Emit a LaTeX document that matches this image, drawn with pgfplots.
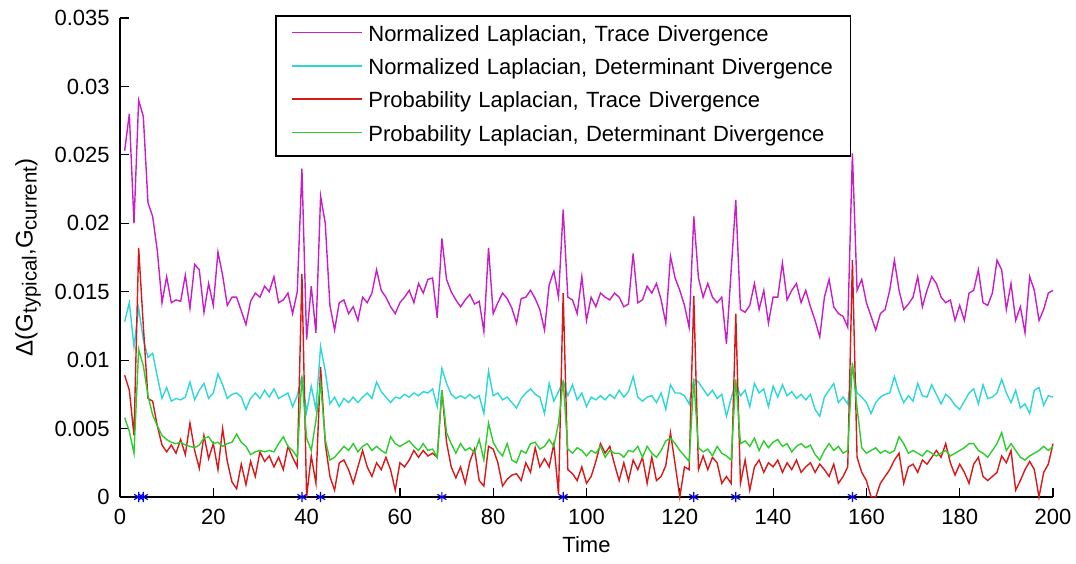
\documentclass[border=0pt]{standalone}
\usepackage{fontspec}
\setmainfont{Liberation Sans}
\usepackage{pgfplots}
\pgfplotsset{compat=1.18}
\usepackage{pgfplotstable}

\definecolor{cM}{RGB}{200,30,200}
\definecolor{cC}{RGB}{45,215,215}
\definecolor{cR}{RGB}{215,25,25}
\definecolor{cG}{RGB}{45,205,45}

\newcommand{\sub}[1]{\raisebox{-0.3ex}{\fontsize{10.2}{12}\selectfont #1}}

\pgfplotstableread{
t nt nd pt pd
1 0.0253 0.0128 0.0089 0.0058
2 0.0280 0.0142 0.0078 0.0048
3 0.0200 0.0110 0.0045 0.0032
4 0.0290 0.0138 0.0182 0.0108
5 0.0278 0.0115 0.0125 0.0096
6 0.0215 0.0102 0.0072 0.0074
7 0.0205 0.0105 0.0070 0.0060
8 0.0180 0.0088 0.0052 0.0052
9 0.0142 0.0072 0.0038 0.0045
10 0.0161 0.0080 0.0033 0.0042
11 0.0142 0.0070 0.0038 0.0040
12 0.0144 0.0072 0.0032 0.0039
13 0.0143 0.0071 0.0042 0.0040
14 0.0162 0.0073 0.0031 0.0038
15 0.0138 0.0084 0.0054 0.0037
16 0.0170 0.0071 0.0034 0.0036
17 0.0166 0.0078 0.0021 0.0038
18 0.0135 0.0083 0.0045 0.0043
19 0.0156 0.0072 0.0028 0.0044
20 0.0140 0.0076 0.0039 0.0039
21 0.0179 0.0090 0.0020 0.0040
22 0.0162 0.0082 0.0050 0.0037
23 0.0140 0.0072 0.0026 0.0039
24 0.0146 0.0075 0.0011 0.0040
25 0.0146 0.0076 0.0006 0.0046
26 0.0136 0.0073 0.0024 0.0040
27 0.0126 0.0064 0.0009 0.0037
28 0.0143 0.0072 0.0026 0.0031
29 0.0149 0.0076 0.0015 0.0033
30 0.0146 0.0072 0.0033 0.0034
31 0.0154 0.0078 0.0026 0.0033
32 0.0150 0.0073 0.0030 0.0034
33 0.0161 0.0079 0.0022 0.0033
34 0.0142 0.0072 0.0029 0.0039
35 0.0144 0.0074 0.0020 0.0044
36 0.0149 0.0076 0.0037 0.0037
37 0.0134 0.0066 0.0029 0.0034
38 0.0150 0.0074 0.0022 0.0029
39 0.0240 0.0088 0.0163 0.0088
40 0.0115 0.0062 0.0000 0.0043
41 0.0154 0.0081 0.0030 0.0034
42 0.0120 0.0064 0.0010 0.0056
43 0.0220 0.0110 0.0095 0.0083
44 0.0200 0.0092 0.0039 0.0042
45 0.0140 0.0068 0.0015 0.0027
46 0.0122 0.0073 0.0005 0.0029
47 0.0142 0.0066 0.0025 0.0033
48 0.0144 0.0072 0.0027 0.0037
49 0.0134 0.0069 0.0020 0.0034
50 0.0139 0.0073 0.0010 0.0039
51 0.0129 0.0069 0.0022 0.0033
52 0.0146 0.0073 0.0034 0.0037
53 0.0142 0.0076 0.0022 0.0039
54 0.0149 0.0072 0.0015 0.0034
55 0.0166 0.0084 0.0025 0.0037
56 0.0151 0.0077 0.0020 0.0034
57 0.0146 0.0073 0.0029 0.0032
58 0.0139 0.0069 0.0020 0.0044
59 0.0134 0.0073 0.0005 0.0039
60 0.0142 0.0072 0.0025 0.0037
61 0.0146 0.0075 0.0022 0.0039
62 0.0151 0.0073 0.0027 0.0041
63 0.0142 0.0076 0.0034 0.0037
64 0.0156 0.0074 0.0029 0.0034
65 0.0149 0.0077 0.0034 0.0039
66 0.0159 0.0076 0.0030 0.0034
67 0.0160 0.0079 0.0032 0.0035
68 0.0131 0.0066 0.0029 0.0029
69 0.0189 0.0094 0.0078 0.0078
70 0.0159 0.0083 0.0040 0.0047
71 0.0150 0.0075 0.0022 0.0039
72 0.0144 0.0072 0.0014 0.0032
73 0.0139 0.0074 0.0022 0.0039
74 0.0144 0.0072 0.0010 0.0034
75 0.0148 0.0075 0.0026 0.0036
76 0.0141 0.0072 0.0035 0.0032
77 0.0143 0.0074 0.0012 0.0042
78 0.0121 0.0061 0.0008 0.0027
79 0.0182 0.0092 0.0037 0.0054
80 0.0134 0.0074 0.0035 0.0040
81 0.0142 0.0076 0.0025 0.0034
82 0.0149 0.0071 0.0008 0.0030
83 0.0145 0.0073 0.0013 0.0039
84 0.0138 0.0069 0.0016 0.0027
85 0.0127 0.0065 0.0017 0.0025
86 0.0145 0.0072 0.0012 0.0034
87 0.0146 0.0076 0.0025 0.0032
88 0.0151 0.0079 0.0018 0.0039
89 0.0145 0.0075 0.0036 0.0040
90 0.0137 0.0073 0.0022 0.0035
91 0.0122 0.0061 0.0028 0.0037
92 0.0155 0.0083 0.0022 0.0042
93 0.0165 0.0070 0.0039 0.0037
94 0.0146 0.0077 0.0002 0.0054
95 0.0210 0.0085 0.0149 0.0085
96 0.0146 0.0074 0.0020 0.0035
97 0.0144 0.0082 0.0017 0.0032
98 0.0134 0.0071 0.0012 0.0036
99 0.0161 0.0076 0.0022 0.0034
100 0.0129 0.0066 0.0010 0.0030
101 0.0146 0.0073 0.0015 0.0034
102 0.0139 0.0071 0.0026 0.0032
103 0.0149 0.0074 0.0039 0.0037
104 0.0146 0.0071 0.0032 0.0029
105 0.0144 0.0075 0.0037 0.0034
106 0.0149 0.0072 0.0024 0.0032
107 0.0146 0.0078 0.0012 0.0032
108 0.0139 0.0073 0.0025 0.0029
109 0.0141 0.0077 0.0012 0.0034
110 0.0178 0.0088 0.0027 0.0033
111 0.0142 0.0073 0.0020 0.0037
112 0.0144 0.0070 0.0029 0.0029
113 0.0154 0.0073 0.0010 0.0037
114 0.0149 0.0074 0.0029 0.0032
115 0.0156 0.0069 0.0012 0.0029
116 0.0144 0.0076 0.0015 0.0034
117 0.0127 0.0064 0.0023 0.0041
118 0.0176 0.0082 0.0047 0.0043
119 0.0160 0.0076 0.0024 0.0039
120 0.0151 0.0076 0.0000 0.0034
121 0.0140 0.0074 0.0022 0.0030
122 0.0124 0.0068 0.0020 0.0026
123 0.0205 0.0086 0.0147 0.0085
124 0.0160 0.0084 0.0020 0.0036
125 0.0146 0.0079 0.0030 0.0033
126 0.0156 0.0074 0.0020 0.0035
127 0.0146 0.0078 0.0029 0.0030
128 0.0142 0.0072 0.0025 0.0037
129 0.0146 0.0075 0.0010 0.0032
130 0.0112 0.0059 0.0015 0.0030
131 0.0165 0.0072 0.0010 0.0027
132 0.0217 0.0083 0.0134 0.0086
133 0.0137 0.0074 0.0010 0.0039
134 0.0135 0.0078 0.0027 0.0041
135 0.0140 0.0066 0.0005 0.0037
136 0.0156 0.0083 0.0022 0.0043
137 0.0137 0.0076 0.0027 0.0034
138 0.0151 0.0079 0.0018 0.0041
139 0.0127 0.0066 0.0025 0.0036
140 0.0146 0.0081 0.0022 0.0040
141 0.0146 0.0073 0.0027 0.0042
142 0.0171 0.0082 0.0018 0.0037
143 0.0144 0.0074 0.0025 0.0039
144 0.0151 0.0077 0.0020 0.0033
145 0.0156 0.0072 0.0027 0.0037
146 0.0142 0.0075 0.0018 0.0039
147 0.0151 0.0071 0.0022 0.0036
148 0.0139 0.0075 0.0025 0.0038
149 0.0129 0.0064 0.0018 0.0031
150 0.0117 0.0059 0.0024 0.0027
151 0.0146 0.0073 0.0020 0.0034
152 0.0159 0.0078 0.0015 0.0039
153 0.0139 0.0083 0.0024 0.0034
154 0.0134 0.0069 0.0010 0.0037
155 0.0132 0.0073 0.0015 0.0032
156 0.0124 0.0068 0.0022 0.0034
157 0.0251 0.0096 0.0173 0.0098
158 0.0151 0.0076 0.0029 0.0065
159 0.0159 0.0073 0.0018 0.0036
160 0.0142 0.0069 0.0012 0.0032
161 0.0132 0.0061 0.0000 0.0034
162 0.0122 0.0069 0.0000 0.0036
163 0.0134 0.0073 0.0010 0.0032
164 0.0137 0.0075 0.0015 0.0034
165 0.0151 0.0076 0.0020 0.0032
166 0.0173 0.0088 0.0027 0.0034
167 0.0151 0.0077 0.0032 0.0044
168 0.0137 0.0069 0.0010 0.0039
169 0.0141 0.0074 0.0022 0.0032
170 0.0146 0.0070 0.0024 0.0034
171 0.0161 0.0083 0.0018 0.0032
172 0.0139 0.0074 0.0027 0.0030
173 0.0151 0.0073 0.0024 0.0034
174 0.0161 0.0082 0.0029 0.0032
175 0.0156 0.0075 0.0034 0.0030
176 0.0146 0.0068 0.0029 0.0032
177 0.0142 0.0075 0.0039 0.0034
178 0.0144 0.0072 0.0025 0.0030
179 0.0129 0.0067 0.0016 0.0032
180 0.0140 0.0064 0.0024 0.0034
181 0.0129 0.0070 0.0018 0.0036
182 0.0149 0.0076 0.0010 0.0039
183 0.0151 0.0079 0.0024 0.0039
184 0.0166 0.0068 0.0029 0.0034
185 0.0142 0.0082 0.0015 0.0032
186 0.0140 0.0072 0.0012 0.0029
187 0.0149 0.0073 0.0015 0.0034
188 0.0173 0.0076 0.0018 0.0039
189 0.0166 0.0086 0.0030 0.0047
190 0.0137 0.0076 0.0025 0.0034
191 0.0156 0.0069 0.0034 0.0039
192 0.0129 0.0078 0.0005 0.0034
193 0.0139 0.0065 0.0012 0.0029
194 0.0120 0.0068 0.0020 0.0027
195 0.0161 0.0061 0.0026 0.0030
196 0.0151 0.0078 0.0020 0.0032
197 0.0129 0.0080 0.0000 0.0034
198 0.0137 0.0067 0.0018 0.0037
199 0.0149 0.0074 0.0024 0.0034
200 0.0151 0.0073 0.0039 0.0037
}\data

\pgfplotstableread{
t y
4 0
5 0
39 0
43 0
69 0
95 0
123 0
132 0
157 0
}\stars

\begin{document}
\fontsize{11}{13}\selectfont
\begin{tikzpicture}[font=\fontsize{11}{13}\selectfont]
\begin{axis}[
  at={(0,0)}, anchor=south west,
  width=466.5pt, height=239.5pt, scale only axis,
  xmin=0, xmax=200, ymin=0, ymax=0.035,
  axis x line=bottom, axis y line=left,
  axis line style={-, line width=0.8pt, black},
  x axis line style={-}, y axis line style={-},
  xtick={0,20,...,200},
  ytick={0,0.005,0.01,0.015,0.02,0.025,0.03,0.035},
  yticklabels={0,0.005,0.01,0.015,0.02,0.025,0.03,0.035},
  scaled y ticks=false,
  /pgf/number format/assume math mode=true,
  tick align=inside,
  major tick length=4.5pt,
  tick style={line width=0.6pt, black},
  xticklabel style={anchor=center, yshift=-10pt, inner sep=0pt},
  yticklabel style={anchor=east, xshift=-5pt, inner sep=0pt},
  xlabel={Time},
  xlabel style={at={(axis description cs:0.5,0)}, anchor=center, yshift=-24pt},
  ylabel={Δ(G\sub{typical},G\sub{current})},
  ylabel style={at={(axis description cs:-0.0845,0.5)}, anchor=south, inner sep=0pt, font=\fontsize{12}{14}\selectfont},
  clip=false,
  legend cell align=left,
  legend image code/.code={\draw[#1, line width=0.8pt] (0pt,1.6pt) -- (35pt,1.6pt);},
  legend style={
    at={(axis description cs:0.1661,1.0063)}, anchor=north west,
    draw=black, line width=0.8pt, fill=white,
    inner xsep=7.5pt, inner ysep=4.75pt,
    row sep=6.17pt, column sep=3pt,
    nodes={inner sep=0pt, text height=8pt, text depth=2.5pt, text width=233.5pt, font=\fontsize{11}{13}\selectfont},
  },
]
\addplot[cM, line width=0.7pt] table[x=t, y=nt] {\data};
\addlegendentry{Normalized Laplacian, Trace Divergence}
\addplot[cC, line width=0.7pt] table[x=t, y=nd] {\data};
\addlegendentry{Normalized Laplacian, Determinant Divergence}
\addplot[cR, line width=0.7pt] table[x=t, y=pt] {\data};
\addlegendentry{Probability Laplacian, Trace Divergence}
\addplot[cG, line width=0.7pt] table[x=t, y=pd] {\data};
\addlegendentry{Probability Laplacian, Determinant Divergence}
\addplot[only marks, mark=asterisk, mark size=2.6pt, blue, mark options={line width=0.6pt}, forget plot] table[x=t, y=y] {\stars};
\end{axis}
\pgfresetboundingbox
\path[use as bounding box] (-60pt,-33pt) rectangle (478pt,248.5pt);
\end{tikzpicture}
\end{document}
